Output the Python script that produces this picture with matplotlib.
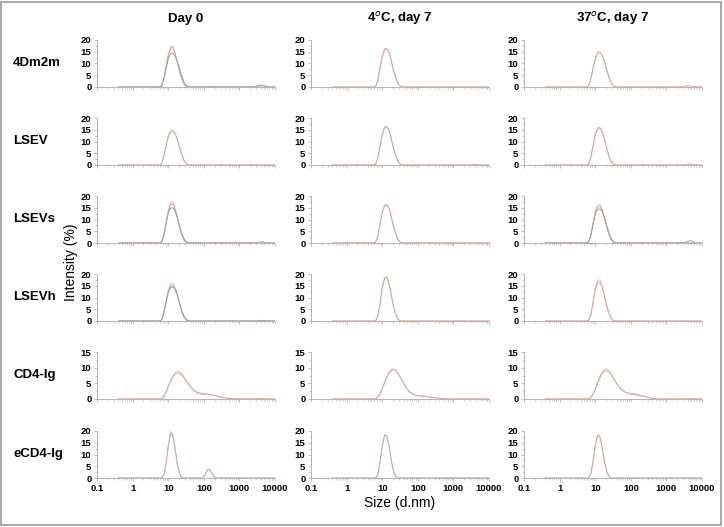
import numpy as np
import matplotlib
matplotlib.use("Agg")
import matplotlib.pyplot as plt
from matplotlib.ticker import LogLocator, NullFormatter, MultipleLocator
from matplotlib.patches import Rectangle

plt.rcParams['font.family'] = ['Liberation Sans', 'DejaVu Sans']
plt.rcParams['mathtext.fontset'] = 'custom'
plt.rcParams['mathtext.rm'] = 'Liberation Sans:bold'
plt.rcParams['mathtext.bf'] = 'Liberation Sans:bold'

# Zetasizer size bins (d.nm)
size_bins = [0.4, 0.4632, 0.5365, 0.6213, 0.7195, 0.8332, 0.9649, 1.117, 1.294, 1.499,
             1.736, 2.010, 2.328, 2.696, 3.122, 3.615, 4.187, 4.849, 5.615, 6.503,
             7.531, 8.721, 10.10, 11.70, 13.54, 15.69, 18.17, 21.04, 24.36, 28.21,
             32.67, 37.84, 43.82, 50.75, 58.77, 68.06, 78.82, 91.28, 105.7, 122.4,
             141.8, 164.2, 190.1, 220.2, 255.0, 295.3, 342.0, 396.1, 458.7, 531.2,
             615.1, 712.4, 825.0, 955.4, 1106, 1281, 1484, 1718, 1990, 2305,
             2669, 3091, 3580, 4145, 4801, 5560, 6439, 7456, 8635, 10000]

conditions = ["Day 0", "4$^{o}$C, day 7", "37$^{o}$C, day 7"]
samples = ["4Dm2m", "LSEV", "LSEVs", "LSEVh", "CD4-Ig", "eCD4-Ig"]
y_max = [20, 20, 20, 20, 15, 20]
x_tick_labels = ["0.1", "1", "10", "100", "1000", "10000"]
x_tick_values = [0.1, 1, 10, 100, 1000, 10000]

# Intensity (%) per replicate: list of (first bin index, values)
i_4Dm2m_d0 = [
    [(19, [0.5, 3.5, 9, 14, 17, 17.5, 14, 10, 6, 3, 1, 0.2, 0]), (40, [0, 0.4, 0.2, 0]),
     (60, [0, 0.4, 0.7, 0.9, 0.6, 0.2, 0])],
    [(19, [0.3, 3, 8.5, 13.5, 16.5, 16.8, 14, 10.5, 6.5, 3.5, 1.2, 0.2, 0])],
    [(19, [0.5, 3.5, 8, 12, 14.3, 14.5, 13, 10.5, 7.5, 4.5, 2, 0.5, 0]),
     (60, [0, 0.3, 0.6, 0.8, 0.7, 0.3, 0])],
]
i_4Dm2m_4c = [
    [(19, [0.3, 3, 8.5, 13.5, 16.3, 16.5, 14.5, 10.5, 6.5, 3.5, 1.2, 0.2, 0])],
    [(19, [0.3, 2.8, 8, 13, 15.8, 16.2, 14.8, 11, 7, 3.8, 1.3, 0.2, 0])],
]
i_4Dm2m_37c = [
    [(19, [0.5, 3.5, 8.5, 12.5, 14.8, 15, 13.5, 10.5, 7, 4, 1.6, 0.4, 0]),
     (60, [0, 0.3, 0.6, 0.8, 0.6, 0.2, 0])],
    [(19, [0.5, 3.3, 8, 12, 14.3, 14.6, 13.5, 11, 7.5, 4.2, 1.8, 0.5, 0])],
]
i_LSEV_d0 = [
    [(19, [0.6, 3.8, 8.5, 12.5, 14.8, 15, 13.5, 10.5, 7, 4, 1.6, 0.4, 0])],
    [(19, [0.6, 3.6, 8, 12, 14, 14.2, 13.2, 10.8, 7.5, 4.4, 1.9, 0.5, 0])],
]
i_LSEV_4c = [
    [(19, [0.3, 3, 8.5, 13.5, 16.3, 16.5, 14.5, 10.5, 6.5, 3.5, 1.2, 0.2, 0])],
    [(19, [0.3, 2.8, 8, 13, 15.8, 16.0, 14.8, 11, 7, 3.8, 1.3, 0.2, 0]),
     (61, [0, 0.2, 0.3, 0.2, 0])],
]
i_LSEV_37c = [
    [(19, [0.4, 3.2, 8.5, 13.2, 15.8, 16, 14.3, 10.8, 6.8, 3.6, 1.3, 0.2, 0])],
    [(19, [0.4, 3, 8.2, 12.8, 15.3, 15.5, 14.2, 11, 7.2, 3.9, 1.5, 0.3, 0]),
     (61, [0, 0.3, 0.5, 0.4, 0])],
]
i_LSEVs_d0 = [
    [(19, [0.3, 3, 8.5, 14, 17.2, 17.5, 14.5, 10.3, 6.2, 3.2, 1, 0.1, 0])],
    [(19, [0.3, 3, 8.3, 13.5, 16.3, 16.6, 14.3, 10.6, 6.7, 3.5, 1.2, 0.2, 0])],
    [(19, [0.5, 3.5, 8.3, 12.6, 14.8, 15, 13.6, 10.8, 7.2, 4, 1.6, 0.4, 0]),
     (61, [0, 0.3, 0.5, 0.4, 0])],
]
i_LSEVs_4c = [
    [(19, [0.3, 3, 8.5, 13.5, 16.3, 16.5, 14.5, 10.5, 6.5, 3.5, 1.2, 0.2, 0])],
    [(19, [0.3, 2.8, 8, 13, 15.8, 16.0, 14.8, 11, 7, 3.8, 1.3, 0.2, 0])],
]
i_LSEVs_37c = [
    [(19, [0.3, 3, 8.5, 13.6, 16.3, 16.5, 14.3, 10.5, 6.5, 3.4, 1.2, 0.2, 0])],
    [(19, [0.4, 3.1, 8.2, 12.9, 15.3, 15.5, 14.1, 10.9, 7.1, 3.9, 1.5, 0.3, 0])],
    [(19, [0.5, 3.4, 8, 12.2, 14.3, 14.5, 13.4, 11, 7.5, 4.3, 1.8, 0.5, 0]),
     (61, [0, 0.4, 0.8, 1.0, 0.6, 0])],
]
i_LSEVh_d0 = [
    [(19, [0.4, 3.2, 8.5, 13.2, 15.8, 16, 14.3, 10.8, 6.8, 3.6, 1.3, 0.2, 0])],
    [(19, [0.5, 3.4, 8.2, 12.5, 14.8, 15, 13.6, 10.8, 7.1, 4, 1.6, 0.4, 0])],
    [(19, [0.5, 3.5, 8, 12.2, 14.3, 14.5, 13.4, 11, 7.5, 4.3, 1.8, 0.5, 0]),
     (61, [0, 0.2, 0.3, 0.2, 0])],
]
i_LSEVh_4c = [
    [(19, [0.1, 2, 7.5, 15, 18.5, 19, 15.5, 10.5, 5.5, 2.5, 0.6, 0])],
    [(19, [0.1, 2, 7.3, 14.5, 18, 18.5, 15.6, 10.9, 5.9, 2.7, 0.7, 0])],
]
i_LSEVh_37c = [
    [(19, [0.2, 2.6, 8.2, 14.2, 17.2, 17.5, 14.8, 10.4, 6, 3, 0.9, 0.1, 0])],
    [(19, [0.3, 2.8, 8, 13.5, 16.2, 16.5, 14.6, 10.8, 6.6, 3.4, 1.1, 0.2, 0])],
]
i_CD4Ig_d0 = [
    [(19, [0, 0.8, 2.3, 4.2, 6.0, 7.4, 8.4, 8.8, 8.6, 7.9, 6.9, 5.7, 4.6, 3.6, 2.8, 2.2,
           1.8, 1.6, 1.5, 1.45, 1.4, 1.35, 1.3, 1.2, 1.05, 0.9, 0.75, 0.6, 0.45, 0.32,
           0.22, 0.14, 0.08, 0.04, 0]), (60, [0, 0.1, 0.2, 0.2, 0.1, 0])],
    [(19, [0, 0.7, 2.1, 3.9, 5.7, 7.0, 7.9, 8.3, 8.2, 7.6, 6.7, 5.6, 4.6, 3.7, 3.0, 2.5,
           2.1, 1.9, 1.8, 1.7, 1.6, 1.5, 1.35, 1.2, 1.0, 0.8, 0.6, 0.45, 0.3, 0.2,
           0.12, 0.06, 0])],
]
i_CD4Ig_4c = [
    [(19, [0, 0.6, 1.8, 3.5, 5.5, 7.3, 8.7, 9.5, 9.6, 9.1, 8.1, 6.8, 5.4, 4.1, 3, 2.2,
           1.6, 1.3, 1.1, 1.0, 0.95, 0.9, 0.85, 0.75, 0.65, 0.55, 0.45, 0.35, 0.25, 0.17,
           0.1, 0.05, 0])],
    [(19, [0, 0.6, 1.7, 3.3, 5.2, 7.0, 8.4, 9.2, 9.3, 8.9, 8.0, 6.8, 5.5, 4.3, 3.2, 2.4,
           1.8, 1.4, 1.2, 1.1, 1.0, 0.9, 0.8, 0.7, 0.6, 0.5, 0.4, 0.3, 0.2, 0.13,
           0.07, 0.03, 0])],
]
i_CD4Ig_37c = [
    [(19, [0, 0.5, 1.6, 3.3, 5.3, 7.2, 8.7, 9.5, 9.6, 9.0, 7.9, 6.6, 5.3, 4.2, 3.3, 2.7,
           2.3, 2.0, 1.9, 1.8, 1.7, 1.6, 1.4, 1.2, 1.0, 0.8, 0.6, 0.4, 0.25, 0.12, 0]),
     (61, [0, 0.1, 0.2, 0.1, 0])],
    [(19, [0, 0.5, 1.5, 3.1, 5.0, 6.8, 8.2, 8.9, 9.0, 8.6, 7.7, 6.6, 5.4, 4.3, 3.4, 2.7,
           2.2, 1.8, 1.6, 1.5, 1.4, 1.3, 1.15, 1.0, 0.85, 0.7, 0.55, 0.4, 0.25, 0.12, 0])],
]
i_eCD4Ig_d0 = [
    [(19, [0, 1, 6, 14, 19.8, 18.5, 12, 5.5, 1.5, 0]), (37, [0, 1.2, 3.4, 4.0, 2.4, 0.7, 0])],
    [(19, [0, 1.2, 6.5, 14, 19, 18, 12, 5.8, 1.8, 0.1, 0]), (37, [0, 1, 3.0, 3.5, 2.2, 0.6, 0])],
]
i_eCD4Ig_4c = [
    [(19, [0, 1.4, 7, 14, 18.5, 17.8, 13, 7, 2.6, 0.6, 0])],
    [(19, [0, 1.3, 6.8, 13.8, 18.3, 17.9, 13.2, 7.2, 2.7, 0.6, 0])],
]
i_eCD4Ig_37c = [
    [(19, [0, 1.5, 7.2, 14.2, 18.5, 17.6, 12.8, 6.9, 2.6, 0.6, 0])],
    [(19, [0, 1.6, 7.2, 14, 18, 17.4, 13, 7.2, 2.8, 0.7, 0])],
]

panels = [
    [i_4Dm2m_d0, i_4Dm2m_4c, i_4Dm2m_37c],
    [i_LSEV_d0, i_LSEV_4c, i_LSEV_37c],
    [i_LSEVs_d0, i_LSEVs_4c, i_LSEVs_37c],
    [i_LSEVh_d0, i_LSEVh_4c, i_LSEVh_37c],
    [i_CD4Ig_d0, i_CD4Ig_4c, i_CD4Ig_37c],
    [i_eCD4Ig_d0, i_eCD4Ig_4c, i_eCD4Ig_37c],
]

rep_colors = ['#e6bb9c', '#cfa4a4', '#9c9c9c']
axis_grey = '#a8a8a8'

W, H = 724, 527
fig = plt.figure(figsize=(W / 100, H / 100), dpi=100)

col_left = [97, 311, 524]
col_w = 178
row_top = [40, 118, 196, 274, 352, 431]
row_h = 47

sizes = np.array(size_bins)

def build(segments):
    y = np.zeros(len(size_bins))
    for start, vals in segments:
        y[start:start + len(vals)] = vals
    return y

for r in range(6):
    for c in range(3):
        ax = fig.add_axes([col_left[c] / W, 1 - (row_top[r] + row_h) / H, col_w / W, row_h / H])
        for k, rep in enumerate(panels[r][c]):
            y = build(rep)
            ax.plot(sizes, y, color=rep_colors[k], lw=0.65)
        ax.set_xscale('log')
        ax.set_xlim(0.1, 10000)
        ax.set_ylim(0, y_max[r])
        ax.yaxis.set_major_locator(MultipleLocator(5))
        ax.yaxis.set_minor_locator(MultipleLocator(2.5))
        ax.xaxis.set_major_locator(LogLocator(base=10, numticks=10))
        ax.xaxis.set_minor_locator(LogLocator(base=10, subs=np.arange(2, 10), numticks=20))
        ax.xaxis.set_minor_formatter(NullFormatter())
        for s in ['top', 'right']:
            ax.spines[s].set_visible(False)
        for s in ['left', 'bottom']:
            ax.spines[s].set_color(axis_grey)
            ax.spines[s].set_linewidth(0.6)
        ax.tick_params(axis='both', which='major', length=2.5, width=0.5, color=axis_grey,
                       labelsize=6.8, pad=1.5)
        ax.tick_params(axis='both', which='minor', length=1.5, width=0.4, color=axis_grey)
        ax.set_yticks([v for v in range(0, y_max[r] + 1, 5)])
        ax.set_yticklabels([str(v) for v in range(0, y_max[r] + 1, 5)], fontweight='bold')
        if r == 5:
            ax.set_xticks(x_tick_values)
            ax.set_xticklabels(x_tick_labels, fontweight='bold')
        else:
            ax.set_xticks(x_tick_values)
            ax.set_xticklabels([])
        ax.patch.set_alpha(0)

for c in range(3):
    fig.text((col_left[c] + col_w / 2) / W, 1 - 19 / H, conditions[c], ha='center', va='center',
             fontsize=9.5, fontweight='bold')

for r in range(6):
    fig.text(13 / W, 1 - (row_top[r] + 23) / H, samples[r], ha='left', va='center',
             fontsize=9.5, fontweight='bold')

fig.text(71 / W, 1 - 262 / H, "Intensity (%)", rotation=90, ha='center', va='center', fontsize=10)
fig.text(400 / W, 1 - 503 / H, "Size (d.nm)", ha='center', va='center', fontsize=10)

fig.patches.append(Rectangle((1 / W, 2 / H), 720 / W, 1 - 3.5 / H, transform=fig.transFigure,
                             fill=False, edgecolor='#a0a0a0', lw=1.3))

fig.savefig("out.png", dpi=100)
